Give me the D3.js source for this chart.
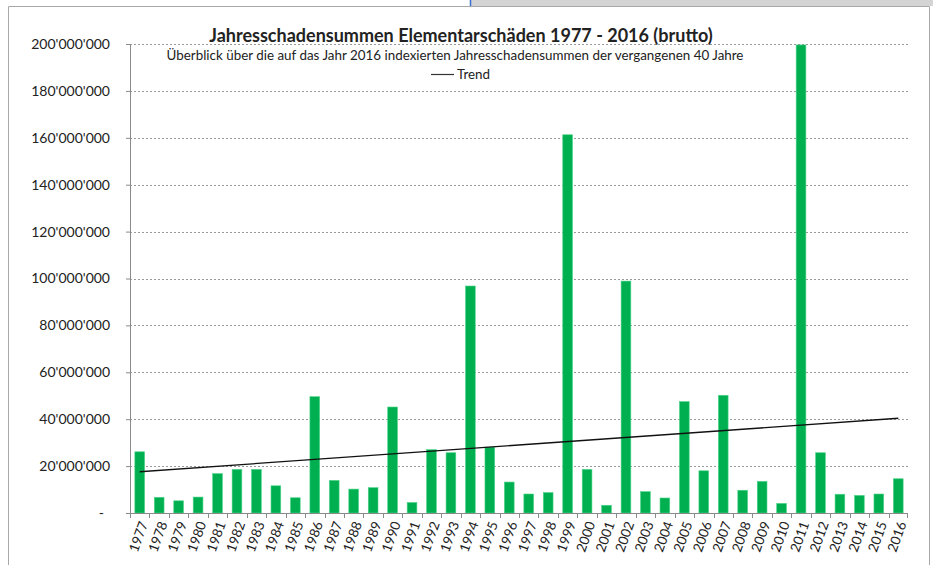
<!DOCTYPE html>
<html>
<head>
<meta charset="utf-8">
<script src="https://cdn.jsdelivr.net/npm/d3@7"></script>
<style>
  body { margin: 0; background: #fff; }
  text { font-family: Lato, "Noto Sans", sans-serif; fill: #222; }
</style>
</head>
<body>
<svg></svg>
<script>
// Jahre und indexierte Schadensummen (CHF)
var years = ["1977","1978","1979","1980","1981","1982","1983","1984","1985","1986",
             "1987","1988","1989","1990","1991","1992","1993","1994","1995","1996",
             "1997","1998","1999","2000","2001","2002","2003","2004","2005","2006",
             "2007","2008","2009","2010","2011","2012","2013","2014","2015","2016"];

var damages = [26.1, 6.7, 5.2, 6.8, 16.8, 18.6, 18.6, 11.6, 6.5, 49.6,
               13.9, 10.2, 10.8, 45.2, 4.5, 27.0, 25.7, 96.8, 28.1, 13.2,
               8.1, 8.7, 161.3, 18.6, 3.3, 98.9, 9.1, 6.4, 47.5, 18.0,
               50.2, 9.7, 13.5, 4.1, 199.6, 25.7, 8.0, 7.5, 8.1, 14.6]
               .map(function(v){ return v * 1e6; });

// Trendlinie: Anfangs- und Endwert (1977, 2016)
var trendYears = ["1977", "2016"];
var trendValues = [17.6e6, 40.4e6];

var yTicks = [0, 20e6, 40e6, 60e6, 80e6, 100e6, 120e6, 140e6, 160e6, 180e6, 200e6];

var title = "Jahresschadensummen Elementarschäden 1977 - 2016 (brutto)";
var subtitle = "Überblick über die auf das Jahr 2016 indexierten Jahresschadensummen der vergangenen 40 Jahre";

var screen = { width: 933, height: 565 };
var margins = { top: 44, bottom: 52, left: 130, right: 25 };
var width = 908 - margins.left;
var height = 513 - margins.top;

var svg = d3.select("svg")
            .attr("width", screen.width)
            .attr("height", screen.height);

// Fensterrahmen
svg.append("rect").attr("x", 470).attr("y", 0).attr("width", 463).attr("height", 6).attr("fill", "#d4d4d4");
svg.append("line").attr("x1", 470.5).attr("x2", 470.5).attr("y1", 0).attr("y2", 7).attr("stroke", "#3a6fd0").attr("stroke-width", 1.5);
svg.append("path")
   .attr("d", "M8.5,565 V6.5 H929.5 V565")
   .attr("fill", "none")
   .attr("stroke", "#a8a8a8");

var xScale = d3.scaleBand()
               .domain(years)
               .range([0, width])
               .paddingInner(0.5)
               .paddingOuter(0.25);

var yScale = d3.scaleLinear()
               .domain([0, 200e6])
               .range([height, 0]);

var plot = svg.append("g")
              .attr("transform", "translate(" + margins.left + "," + margins.top + ")");

// Gitterlinien
plot.append("g")
    .selectAll("line")
    .data(yTicks.slice(1))
    .enter()
    .append("line")
    .attr("x1", 0)
    .attr("x2", width)
    .attr("y1", function(d){ return Math.round(yScale(d)) + 0.5; })
    .attr("y2", function(d){ return Math.round(yScale(d)) + 0.5; })
    .attr("stroke", "#9a9a9a")
    .attr("stroke-dasharray", "2,2");

// Balken
plot.append("g")
    .selectAll("rect")
    .data(damages)
    .enter()
    .append("rect")
    .attr("x", function(d, i){ return xScale(years[i]); })
    .attr("y", function(d){ return yScale(d); })
    .attr("width", xScale.bandwidth())
    .attr("height", function(d){ return height - yScale(d); })
    .attr("fill", "#00b050")
    .attr("stroke", "#4cd488")
    .attr("stroke-width", 0.6);

// Trend
var trendLine = d3.line()
                  .x(function(d, i){ return xScale(trendYears[i]) + xScale.bandwidth() / 2; })
                  .y(function(d){ return yScale(d); });

plot.append("path")
    .datum(trendValues)
    .attr("d", trendLine)
    .attr("fill", "none")
    .attr("stroke", "#111")
    .attr("stroke-width", 1.3);

// Y-Achse
var fmt = function(d)
{
  if (d === 0) return "-";
  return d3.format(",")(d).replace(/,/g, "'");
};

var yAxis = plot.append("g")
                .call(d3.axisLeft(yScale).tickValues(yTicks).tickSize(4).tickPadding(16).tickFormat(fmt));
yAxis.select(".domain").attr("stroke", "#8a8a8a");
yAxis.selectAll(".tick line").attr("stroke", "#8a8a8a");
yAxis.selectAll("text")
     .style("font-family", "Lato, sans-serif")
     .style("font-size", "14px")
     .attr("fill", "#222");
yAxis.selectAll(".tick")
     .filter(function(d){ return d === 0; })
     .select("text")
     .attr("x", -26);

// X-Achse mit Strichen zwischen den Kategorien
var xg = plot.append("g")
             .attr("transform", "translate(0," + height + ")");
xg.append("line")
  .attr("x1", -4).attr("x2", width)
  .attr("y1", 0.5).attr("y2", 0.5)
  .attr("stroke", "#8a8a8a");
xg.selectAll(".xt")
  .data(years)
  .enter()
  .append("line")
  .attr("class", "xt")
  .attr("x1", function(d){ return Math.round(xScale(d) - xScale.step() * 0.25) + 0.5; })
  .attr("x2", function(d){ return Math.round(xScale(d) - xScale.step() * 0.25) + 0.5; })
  .attr("y1", 0).attr("y2", 5)
  .attr("stroke", "#8a8a8a");
xg.append("line")
  .attr("x1", width - 0.5).attr("x2", width - 0.5)
  .attr("y1", 0).attr("y2", 5)
  .attr("stroke", "#8a8a8a");

xg.selectAll(".lbl")
  .data(years)
  .enter()
  .append("text")
  .attr("class", "lbl")
  .attr("transform", function(d)
  {
    return "translate(" + (xScale(d) + xScale.bandwidth() / 2 + 4) + ",9) rotate(-70)";
  })
  .attr("text-anchor", "end")
  .attr("dy", "0.35em")
  .style("font-size", "13.5px")
  .text(function(d){ return d; });

// Titel und Legende
svg.append("text")
   .attr("x", 461)
   .attr("y", 42)
   .attr("text-anchor", "middle")
   .style("font-size", "18px")
   .style("font-weight", "bold")
   .attr("fill", "#000")
   .text(title);

svg.append("text")
   .attr("x", 455)
   .attr("y", 60)
   .attr("text-anchor", "middle")
   .style("font-size", "13.4px")
   .text(subtitle);

svg.append("line")
   .attr("x1", 431).attr("x2", 454)
   .attr("y1", 74.5).attr("y2", 74.5)
   .attr("stroke", "#333")
   .attr("stroke-width", 1.2);

svg.append("text")
   .attr("x", 457)
   .attr("y", 79)
   .style("font-size", "13.4px")
   .text("Trend");
</script>
</body>
</html>
